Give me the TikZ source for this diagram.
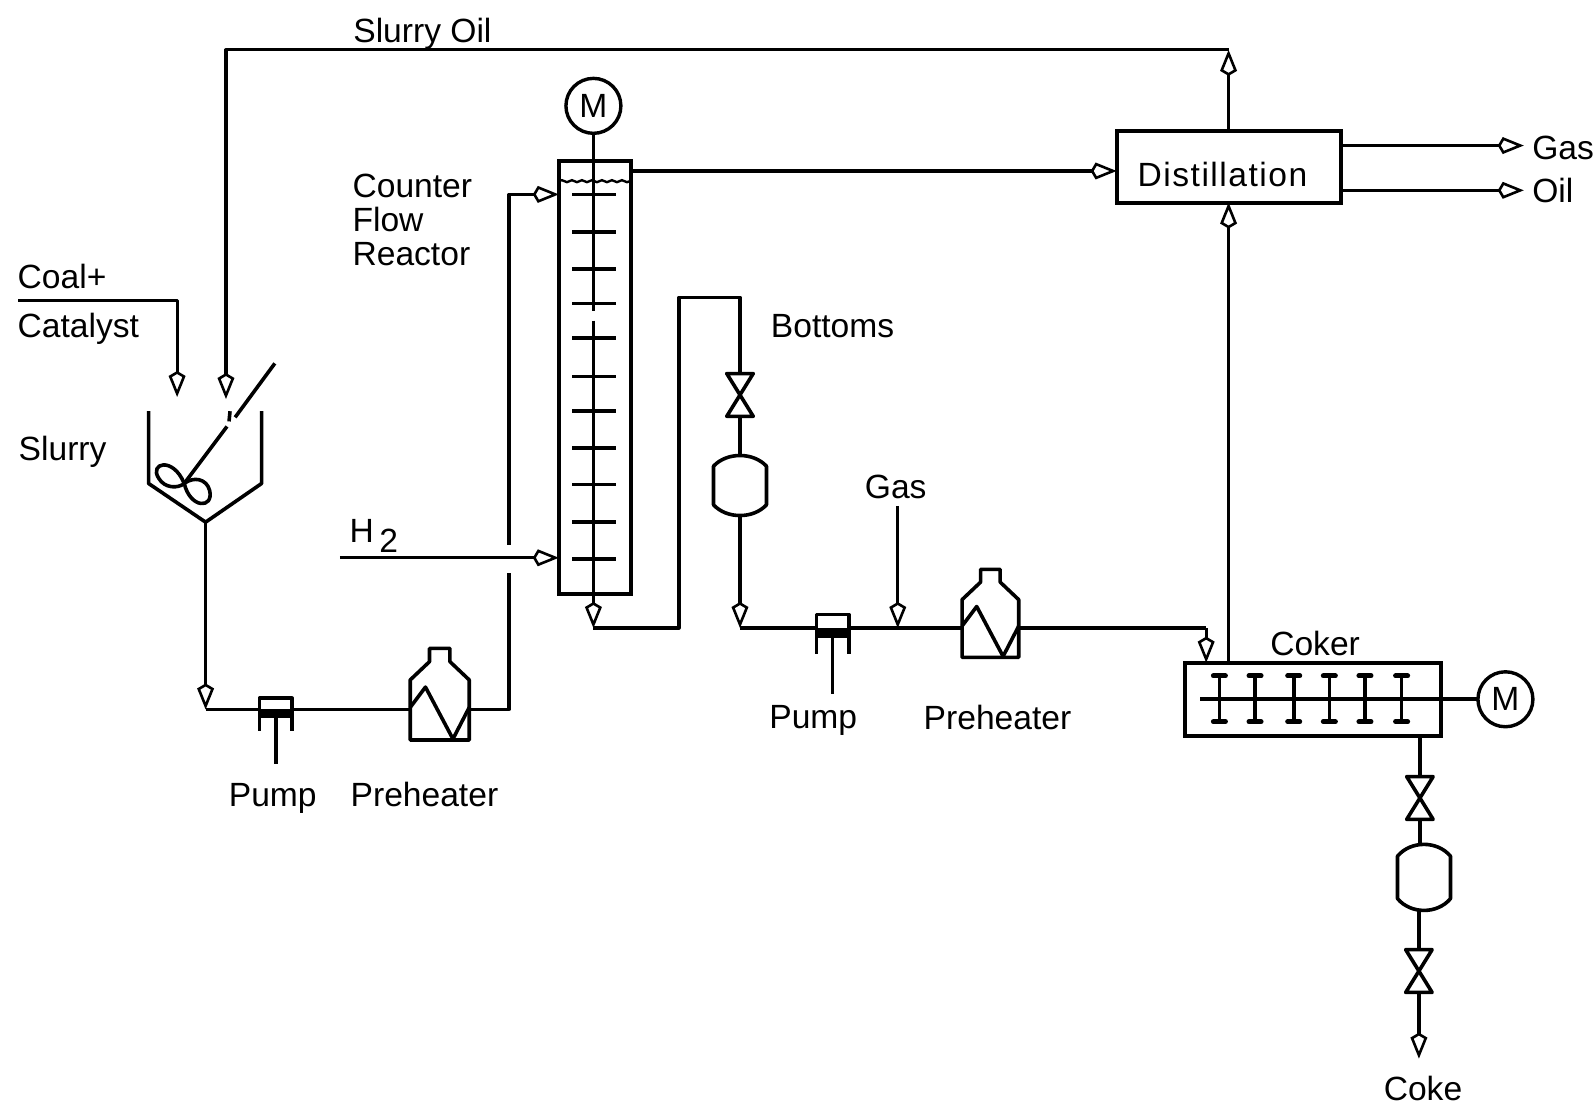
\documentclass[tikz,border=0pt]{standalone}
\usepackage{fontspec}
\setmainfont{Liberation Sans}
\usetikzlibrary{arrows.meta, decorations.pathmorphing}
\newcommand{\unitlen}{0.509pt}
\tikzset{
  pipe/.style={line width=1.6pt, line join=round},
  flow/.style={pipe, -{Kite[open, length=13pt, width=8.5pt, inset=2.5pt, line width=1.3pt]}},
  part/.style={line width=1.8pt, line join=round},
  tag/.style={font=\fontsize{16.8}{16.8}\selectfont, inner sep=0pt},
  unitbox/.style={draw, line width=2pt, inner sep=0pt, outer sep=0pt},
  motor/.style={draw, circle, line width=1.7pt, minimum size=54*\unitlen, inner sep=0pt, outer sep=0pt,
                font=\fontsize{16.8}{16.8}\selectfont},
  preheat/.pic={
    \draw[part] (-29,30) -- (-29,-29) -- (-10,-47) -- (-10,-60) -- (10,-60) -- (10,-47) -- (29,-29) -- (29,30) -- cycle;
    \draw[part] (-29,-2) -- (-14,-22) -- (13,29) -- (29,-2);
    \coordinate (-in) at (-29,0);
    \coordinate (-out) at (29,0);
  },
  pumpset/.pic={
    \draw[part] (-16,21) -- (-16,-11) -- (16,-11) -- (16,21);
    \fill (-16,0) rectangle (16,8);
    \draw[part] (0,8) -- (0,54);
    \coordinate (-in) at (-16,0);
    \coordinate (-out) at (16,0);
  },
  valve/.pic={
    \draw[part] (-13,-21) -- (13,-21) -- (-13,21) -- (13,21) -- cycle;
    \coordinate (-top) at (0,-21);
    \coordinate (-bot) at (0,21);
  },
  drum/.pic={
    \draw[part] (-26,-19) .. controls (-13,-33) and (13,-33) .. (26,-19) -- (26,19)
      .. controls (13,33) and (-13,33) .. (-26,19) -- cycle;
    \coordinate (-top) at (0,-30);
    \coordinate (-bot) at (0,30);
  },
}
\begin{document}
\begin{tikzpicture}[x=\unitlen, y=-\unitlen]
\useasboundingbox (0,0) rectangle (1568,1089);

\node[tag, anchor=west] (coal) at (17,272) {Coal+};
\node[tag, anchor=west] (catalyst) at (17,323) {Catalyst};
\node[tag, anchor=west] (slurry) at (18,444) {Slurry};
\node[tag] (slurryoil) at (415,33) {Slurry Oil};
\node[tag, anchor=north west, align=left] (reactorlbl) at (346,171)
  {Counter\\Flow\\Reactor};
\node[tag, anchor=west] (h2) at (343,527) {H\,\raisebox{-5pt}{2}};
\node[tag, anchor=west] (bottoms) at (757,320) {Bottoms};
\node[tag] (pumplbla) at (268,784) {Pump};
\node[tag] (heatlbla) at (417,781) {Preheater};
\node[tag] (pumplblb) at (799,708) {Pump};
\node[tag] (heatlblb) at (980,705) {Preheater};
\node[tag] (gaslbl) at (880,478) {Gas};
\node[tag] (cokerlbl) at (1292,632) {Coker};
\node[tag, anchor=west] (gasout) at (1505,145) {Gas};
\node[tag, anchor=west] (oilout) at (1505,187) {Oil};
\node[tag] (coke) at (1398,1069) {Coke};

\node[unitbox, minimum width=71*\unitlen, minimum height=426*\unitlen] (reactor) at (584.5,371) {};
\node[unitbox, minimum width=220*\unitlen, minimum height=70*\unitlen] (distil) at (1207,164) {};
\node[tag] (distillbl) at (1201,171) {\addfontfeature{LetterSpace=4.5}Distillation};
\node[unitbox, minimum width=252*\unitlen, minimum height=72*\unitlen] (coker) at (1290,687) {};
\node[motor] (motora) at (583,104) {M};
\node[motor] (motorb) at (1479,687) {M};

\pic (pumpa) at (271,697) {pumpset};
\pic (heata) at (432,697) {preheat};
\pic[yscale=1.2] (pumpb) at (818,617) {pumpset};
\pic[scale=.96] (heatb) at (973,617) {preheat};
\pic (valvea) at (727,388) {valve};
\pic (druma) at (727,477) {drum};
\pic (valveb) at (1395,784) {valve};
\pic[yscale=1.1] (drumb) at (1399,862) {drum};
\pic (valvec) at (1394,954) {valve};

% slurry tank
\draw[part] (146,404) -- (146,475) -- (202,513) -- (257,475) -- (257,404);
\draw[part] (270,357) -- (231,410);
\draw[part] (226,404) -- (225,414);
\draw[part] (223,419) -- (181,475);
\draw[part] (181,475) .. controls (170,448) and (146,455) .. (156,470) .. controls (162,480) and (175,480) .. (181,475)
  .. controls (187,500) and (210,500) .. (206,482) .. controls (203,470) and (190,468) .. (181,475);

% column internals
\foreach \trayy in {191,228,264,298,332,370,404,440,476,513,549}
  \draw[part] (562,\trayy) -- (605,\trayy);
\draw[line width=1.2pt, decorate, decoration={snake, amplitude=.5pt, segment length=5pt}]
  (reactor.west |- 0,178) -- (reactor.east |- 0,178);

% coker paddles
\foreach \paddlex in {1198,1233,1271,1306,1341,1377} {
  \draw[part] (\paddlex,664) -- (\paddlex,709);
  \draw[part, line width=2.4pt, line cap=round] (\paddlex-6,664) -- (\paddlex+6,664);
  \draw[part, line width=2.4pt, line cap=round] (\paddlex-6,709) -- (\paddlex+6,709);
}
\coordinate (shaftend) at (1179,687);
\draw[part] (shaftend) -- (motorb.west);

\coordinate (coalend) at (18,295);
\coordinate (coalin) at (174,390);
\draw[flow] (coalend) -| (coalin);
\coordinate (oiltop) at (1207,49);
\coordinate (oilin) at (222,392);
\draw[flow] (distil.north) -- (oiltop);
\draw[flow] (oiltop) -| (oilin);
\coordinate (tankout) at (202,513);
\coordinate (feedcorner) at (202,697);
\draw[flow] (tankout) -- (feedcorner);
\draw[pipe] (feedcorner) -- (pumpa-in);
\draw[pipe] (pumpa-out) -- (heata-in);
\coordinate (gaplow) at (500,563);
\coordinate (gaphigh) at (500,535);
\coordinate (feedtop) at (500,191);
\draw[pipe] (heata-out) -| (gaplow);
\draw[flow] (gaphigh) |- (reactor.west |- feedtop);
\coordinate (h2start) at (334,548);
\draw[flow] (h2start) -- (h2start -| reactor.west);
\coordinate (overhead) at (620,168);
\draw[flow] (overhead) -- (overhead -| distil.west);
\coordinate (shaftstop) at (583,306);
\coordinate (shaftrun) at (583,315);
\coordinate (columnout) at (583,617);
\draw[part] (motora.south) -- (shaftstop);
\draw[flow] (shaftrun) -- (columnout);
\coordinate (botcornera) at (667,617);
\coordinate (botcornerb) at (667,292);
\draw[pipe] (columnout) -- (botcornera) -- (botcornerb) -| (valvea-top);
\draw[part] (valvea-bot) -- (druma-top);
\coordinate (bottomsin) at (727,617);
\draw[flow] (druma-bot) -- (bottomsin);
\draw[pipe] (bottomsin) -- (pumpb-in);
\draw[pipe] (pumpb-out) -- (heatb-in);
\coordinate (gasstart) at (882,497);
\draw[flow] (gasstart) -- (gasstart |- bottomsin);
\coordinate (cokerfeed) at (1185,617);
\draw[pipe] (heatb-out) -- (cokerfeed);
\draw[flow] (cokerfeed) -- (cokerfeed |- coker.north);
\draw[flow] (coker.north -| distil.south) -- (distil.south);
\coordinate (gastip) at (1497,143);
\coordinate (oiltip) at (1497,187);
\draw[flow] (distil.east |- gastip) -- (gastip);
\draw[flow] (distil.east |- oiltip) -- (oiltip);
\draw[pipe] (coker.south -| valveb-top) -- (valveb-top);
\draw[part] (valveb-bot) -- (valveb-bot |- drumb-top);
\draw[part] (valvec-top |- drumb-bot) -- (valvec-top);
\coordinate (cokeend) at (1394,1040);
\draw[flow] (valvec-bot) -- (cokeend);
\end{tikzpicture}
\end{document}
